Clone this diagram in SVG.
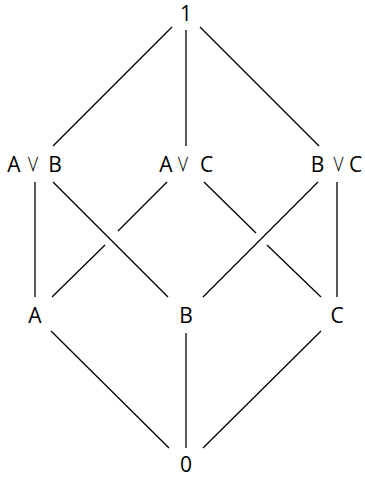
<svg xmlns="http://www.w3.org/2000/svg" width="365" height="477" viewBox="0 0 365 477">
  <style>
    .lbl { font-family: "Open Sans", "DejaVu Sans", sans-serif; font-size: 21px; fill: #000; text-anchor: middle; }
    .op { font-family: "Noto Sans CJK JP", "DejaVu Sans", sans-serif; font-size: 20px; font-weight: 400; fill: #000; text-anchor: middle; }
    .edge { stroke: #000; stroke-width: 1.3; fill: none; stroke-linecap: butt; }
  </style>
  <rect width="365" height="477" fill="#fff"/>

  <!-- Hasse diagram edges (gaps mark line crossings) -->
  <g id="edges" class="edge">
    <line x1="172" y1="27" x2="53" y2="146"/>
    <line x1="186" y1="30" x2="186" y2="146"/>
    <line x1="200" y1="27" x2="319" y2="146"/>

    <line x1="35" y1="182" x2="35" y2="297"/>
    <line x1="53" y1="182" x2="168" y2="297"/>
    <line x1="167" y1="182" x2="118" y2="231"/>
    <line x1="105" y1="245" x2="52" y2="297"/>
    <line x1="204" y1="182" x2="256" y2="233"/>
    <line x1="267" y1="245" x2="321" y2="297"/>
    <line x1="318" y1="182" x2="203" y2="297"/>
    <line x1="337" y1="182" x2="337" y2="297"/>

    <line x1="51" y1="331" x2="169" y2="448"/>
    <line x1="186" y1="333" x2="186" y2="448"/>
    <line x1="321" y1="331" x2="203" y2="448"/>
  </g>

  <g id="n-top"><text class="lbl" x="186" y="21">1</text></g>
  <g id="n-ab">
    <text class="lbl" x="14" y="172">A</text>
    <text class="op" transform="translate(33,172) scale(0.65,1)">∨</text>
    <text class="lbl" x="55" y="172">B</text>
  </g>
  <g id="n-ac">
    <text class="lbl" x="166" y="172">A</text>
    <text class="op" transform="translate(183,172) scale(0.65,1)">∨</text>
    <text class="lbl" x="206.5" y="172">C</text>
  </g>
  <g id="n-bc">
    <text class="lbl" x="317.5" y="172">B</text>
    <text class="op" transform="translate(338.5,172) scale(0.65,1)">∨</text>
    <text class="lbl" x="355.5" y="172">C</text>
  </g>
  <g id="n-a"><text class="lbl" x="35" y="323">A</text></g>
  <g id="n-b"><text class="lbl" x="186" y="323">B</text></g>
  <g id="n-c"><text class="lbl" x="337" y="323">C</text></g>
  <g id="n-bottom"><text class="lbl" x="186" y="472">0</text></g>
</svg>
